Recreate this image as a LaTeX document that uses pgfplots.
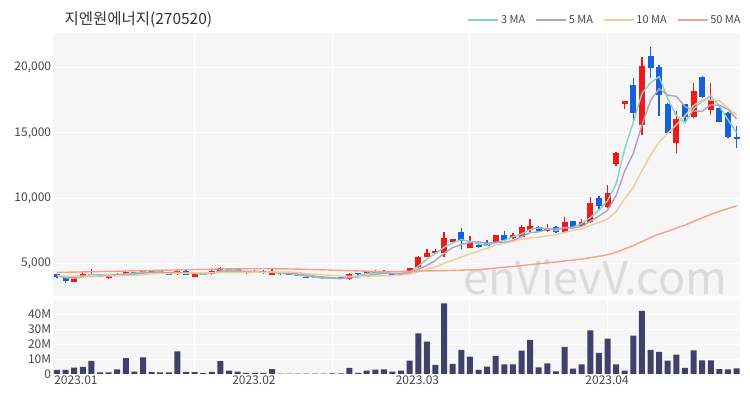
\documentclass[border=0pt]{standalone}
\usepackage{pgfplots}
\pgfplotsset{compat=1.18}
\usepackage{pgfplotstable}
\usepackage{fontspec}
\setmainfont{Noto Sans CJK KR}

\definecolor{upc}{RGB}{242,24,24}
\definecolor{dnc}{RGB}{22,96,220}
\definecolor{volc}{RGB}{64,64,106}
\definecolor{ma3}{RGB}{130,212,200}
\definecolor{ma5}{RGB}{176,160,196}
\definecolor{ma10}{RGB}{240,204,150}
\definecolor{ma50}{RGB}{244,160,140}
\definecolor{panel}{RGB}{246,246,246}
\definecolor{txt}{RGB}{70,70,70}

% rising days (red): n open high low close
\pgfplotstableread{
n o h l c
3 3600 4060 3560 4040
4 4050 4330 4020 4220
5 4060 4560 4030 4220
7 3850 4060 3830 4030
8 4050 4240 4030 4210
9 4160 4510 4130 4360
11 4310 4490 4290 4460
15 4160 4560 4140 4440
17 3980 4250 3960 4230
19 4160 4460 4140 4440
20 4360 4740 4340 4660
24 4310 4460 4290 4440
26 4110 4560 4090 4360
35 3770 4280 3740 4160
37 4180 4380 4160 4360
41 4130 4220 4110 4200
42 4410 4650 4380 4620
43 4690 5550 4650 5510
44 5510 6070 5500 5820
45 5770 6100 5750 5970
46 5765 7420 5510 6910
47 6660 6900 6620 6840
49 6200 7090 6150 6530
52 6580 7200 6550 7170
54 6910 7350 6880 7170
55 7040 7940 7000 7780
56 7550 8400 7420 7860
58 7450 8010 7400 7680
60 7425 8520 7400 8190
62 7860 8370 7840 8190
63 8190 10050 8060 9600
65 9340 11000 9210 10410
66 12580 13500 12450 13480
67 17200 17460 16800 17450
69 15600 20830 14830 20110
73 14190 16690 13480 16050
75 16230 18790 16100 18200
77 16740 18790 16360 17510
}\upcandles

% falling days (blue)
\pgfplotstableread{
n o h l c
1 4150 4180 3900 3920
2 3960 3980 3480 3630
6 4180 4220 3950 3980
10 4310 4340 4160 4180
12 4470 4490 4290 4310
13 4440 4460 4270 4290
14 4290 4310 4090 4110
16 4440 4460 4080 4100
18 4200 4230 4120 4140
21 4560 4600 4340 4360
22 4560 4580 4290 4310
23 4410 4430 4210 4230
25 4440 4460 4210 4230
27 4230 4250 4140 4160
28 4230 4250 4080 4100
29 4150 4170 4030 4050
30 3980 4000 3880 3900
31 3930 3950 3860 3880
32 3900 3920 3780 3820
33 3930 3950 3830 3850
34 3930 3950 3800 3820
36 4280 4300 4140 4160
38 4440 4460 4260 4280
39 4440 4460 4260 4280
40 4160 4180 4060 4080
48 7420 7680 6070 6710
50 6400 6550 6150 6280
51 6530 6790 6300 6330
53 7170 7500 6750 6790
57 7760 7860 7480 7500
59 7800 7830 7350 7370
61 8240 8260 7740 7760
64 9980 10200 9200 9390
68 18660 19220 15850 16490
70 20880 21590 19170 19940
71 20060 20200 16280 17890
72 17180 17300 14900 15010
74 17180 17200 15900 16230
76 19300 19350 17700 17770
78 16920 16950 15800 15850
79 16540 16560 14600 14650
80 14650 15520 13810 14550
}\downcandles

% moving averages
\pgfplotstableread{
n m3 m5 m10 m50
1 4057 4044 4072 4310
2 3900 3970 4025 4320
3 3863 3968 4019 4330
4 3963 3992 4031 4345
5 4160 4006 4043 4360
6 4140 4018 4031 4375
7 4077 4098 4034 4390
8 4073 4132 4050 4400
9 4200 4160 4076 4415
10 4250 4152 4079 4430
11 4333 4248 4133 4445
12 4317 4304 4201 4460
13 4353 4320 4226 4475
14 4237 4270 4215 4485
15 4280 4322 4237 4500
16 4217 4250 4249 4515
17 4257 4234 4269 4530
18 4157 4204 4262 4545
19 4270 4270 4270 4555
20 4413 4314 4318 4570
21 4487 4366 4308 4575
22 4443 4382 4308 4580
23 4300 4400 4302 4585
24 4327 4400 4335 4590
25 4300 4314 4314 4590
26 4343 4314 4340 4585
27 4250 4284 4333 4580
28 4207 4258 4329 4570
29 4103 4180 4290 4560
30 4017 4114 4214 4540
31 3943 4018 4166 4520
32 3867 3950 4117 4500
33 3850 3900 4079 4480
34 3830 3854 4017 4460
35 3943 3906 4010 4440
36 4047 3962 3990 4420
37 4227 4070 4010 4400
38 4267 4156 4028 4390
39 4307 4248 4051 4380
40 4213 4232 4069 4375
41 4187 4240 4101 4380
42 4300 4292 4181 4390
43 4777 4538 4347 4405
44 5317 4846 4547 4420
45 5767 5224 4728 4430
46 6233 5766 5003 4445
47 6573 6210 5251 4460
48 6820 6450 5494 4480
49 6693 6592 5719 4500
50 6507 6654 5939 4524
51 6380 6538 6152 4572
52 6593 6604 6407 4643
53 6763 6620 6535 4698
54 7043 6748 6670 4757
55 7247 7048 6851 4828
56 7603 7354 6946 4906
57 7713 7420 7012 4975
58 7680 7598 7109 5044
59 7517 7638 7193 5105
60 7747 7720 7384 5185
61 7773 7700 7527 5251
62 8047 7838 7629 5328
63 8517 8222 7910 5435
64 9060 8626 8132 5540
65 9800 9070 8395 5660
66 11093 10214 8957 5847
67 13780 12066 9952 6112
68 15807 13444 10833 6359
69 18017 15588 12107 6672
70 18847 17494 13282 6978
71 19313 18376 14295 7248
72 17613 17888 14977 7462
73 16317 17800 15622 7699
74 15763 17024 16306 7934
75 16827 16676 17085 8214
76 17400 16652 17514 8482
77 17827 17152 17520 8749
78 17043 17112 17456 8984
79 16003 16796 16910 9196
80 15017 16066 16371 9409
}\mas

% volume, millions
\pgfplotstableread{
n v
1 2.7
2 2.7
3 4.2
4 4.7
5 8.7
6 1.0
7 1.0
8 3.0
9 10.5
10 1.5
11 11.0
12 1.2
13 1.0
14 1.0
15 15.0
16 1.4
17 1.2
18 0.5
19 1.4
20 8.5
21 2.2
22 1.6
23 0.7
24 0.7
25 0.7
26 3.3
27 0.3
28 0.3
29 0.3
30 0.3
31 0.3
32 0.2
33 0.4
34 0.4
35 4.0
36 0.7
37 2.2
38 2.9
39 3.1
40 1.5
41 2.2
42 8.9
43 27.0
44 21.5
45 6.0
46 47.0
47 6.7
48 16.0
49 11.5
50 2.7
51 4.9
52 12.0
53 6.4
54 6.4
55 15.5
56 22.7
57 4.4
58 7.1
59 1.8
60 18.0
61 3.6
62 6.4
63 29.0
64 14.0
65 23.5
66 6.4
67 2.2
68 25.5
69 42.0
70 16.0
71 14.7
72 8.9
73 12.9
74 4.0
75 15.8
76 9.1
77 9.1
78 3.3
79 3.1
80 3.8
}\volume

\pgfplotsset{
  panelstyle/.style={
    scale only axis, width=686.7pt,
    xmin=0.57, xmax=80.4,
    axis background/.style={fill=panel},
    axis line style={draw=none},
    major tick length=0pt,
    scaled ticks=false,
    tick label style={font=\fontsize{12}{14}\selectfont, text=txt},
    yticklabel style={inner sep=2pt},
    /pgf/number format/assume math mode=true,
  },
  wick/.style={draw=none, mark=none, forget plot,
    error bars/.cd, y dir=plus, y explicit, error mark=none,
    error bar style={draw=#1, line width=1.3pt}},
  body/.style={draw=none, mark=none, forget plot,
    error bars/.cd, y dir=plus, y explicit, error mark=none,
    error bar style={draw=#1, line width=6pt, line cap=butt}},
}

\begin{document}
\begin{tikzpicture}
\useasboundingbox (0pt,0pt) rectangle (750pt,400pt);

\node[anchor=west, font=\fontsize{15.5}{18}\selectfont, text=black!80] at (61pt,380pt) {지엔원에너지(270520)};

% price panel
\begin{axis}[panelstyle,
  at={(53.3pt,104pt)}, anchor=south west, height=263pt,
  ymin=2500, ymax=22650,
  xtick={17,33,49,65}, xticklabels={},
  ytick={5000,10000,15000,20000},
  yticklabels={{5,000},{10,000},{15,000},{20,000}},
  grid=major, major grid style={white, line width=0.9pt},
  legend style={at={(axis description cs:1.004,1)}, anchor=south east, yshift=6pt,
    draw=none, fill=none, inner sep=0pt, legend columns=4,
    font=\fontsize{11}{13}\selectfont, text=txt,
    /tikz/every even column/.append style={column sep=8pt}},
  legend image code/.code={\draw[#1, line width=1.5pt] (0pt,0pt) -- (30pt,0pt);},
]
\node[font=\fontsize{45}{50}\selectfont, text=black!14] at (axis cs:63.6,3950) {enVievV.com};

\addplot[wick=upc] table[x=n, y=l, y error plus expr=\thisrow{h}-\thisrow{l}] {\upcandles};
\addplot[wick=dnc] table[x=n, y=l, y error plus expr=\thisrow{h}-\thisrow{l}] {\downcandles};
\addplot[body=upc] table[x=n, y=o, y error plus expr=\thisrow{c}-\thisrow{o}] {\upcandles};
\addplot[body=dnc] table[x=n, y=c, y error plus expr=\thisrow{o}-\thisrow{c}] {\downcandles};

\addplot[ma3, line width=1.4pt, mark=none] table[x=n, y=m3] {\mas};
\addlegendentry{3 MA}
\addplot[ma5, line width=1.4pt, mark=none] table[x=n, y=m5] {\mas};
\addlegendentry{5 MA}
\addplot[ma10, line width=1.4pt, mark=none] table[x=n, y=m10] {\mas};
\addlegendentry{10 MA}
\addplot[ma50, line width=1.4pt, mark=none] table[x=n, y=m50] {\mas};
\addlegendentry{50 MA}
\end{axis}

% volume panel
\begin{axis}[panelstyle,
  at={(53.3pt,25pt)}, anchor=south west, height=75pt,
  ymin=-0.67, ymax=49.3,
  ytick={0,10,20,30,40}, yticklabels={0,10M,20M,30M,40M},
  ymajorgrids, major grid style={white, line width=0.9pt},
  xtick={3.2,23.9,42.9,64.95},
  xticklabels={2023.01,2023.02,2023.03,2023.04},
  xticklabel style={inner sep=1pt},
  extra x ticks={17,33,49,65}, extra x tick labels={},
  extra x tick style={grid=major},
]
\addplot[ybar, bar width=6pt, bar shift=0pt, fill=volc, draw=none] table[x=n, y=v] {\volume};
\end{axis}
\end{tikzpicture}
\end{document}
